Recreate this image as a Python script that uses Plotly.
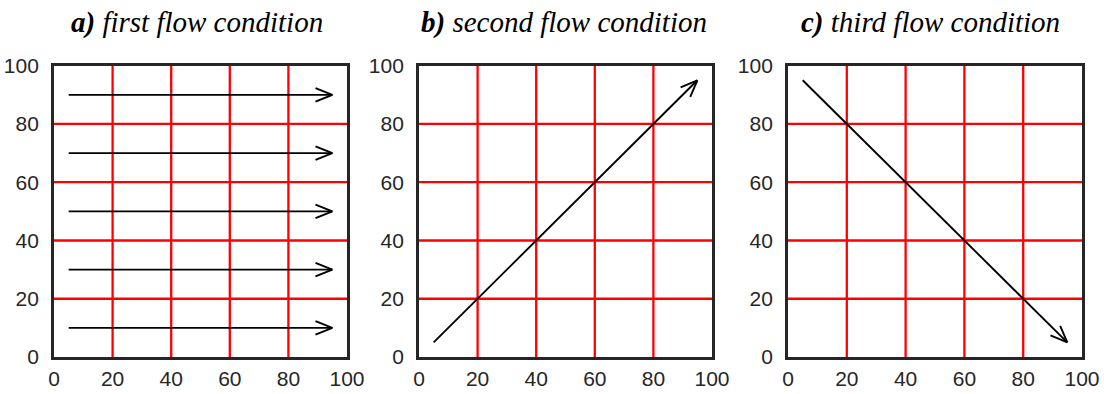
import numpy as np
import plotly.graph_objects as go

# Panel titles and grid ticks
panel_labels = ["a)", "b)", "c)"]
panel_titles = ["first flow condition", "second flow condition", "third flow condition"]
tick_vals = [0, 20, 40, 60, 80, 100]
grid_vals = [20, 40, 60, 80]

# Flow vectors per panel: start (x0, y0) and end (x1, y1)
flow_a_x0 = [5, 5, 5, 5, 5]
flow_a_y0 = [10, 30, 50, 70, 90]
flow_a_x1 = [95, 95, 95, 95, 95]
flow_a_y1 = [10, 30, 50, 70, 90]

flow_b_x0 = [5]
flow_b_y0 = [5]
flow_b_x1 = [95]
flow_b_y1 = [95]

flow_c_x0 = [5]
flow_c_y0 = [95]
flow_c_x1 = [95]
flow_c_y1 = [5]

flows = [
    (flow_a_x0, flow_a_y0, flow_a_x1, flow_a_y1),
    (flow_b_x0, flow_b_y0, flow_b_x1, flow_b_y1),
    (flow_c_x0, flow_c_y0, flow_c_x1, flow_c_y1),
]

x_domains = [[54 / 1104, 347 / 1104], [419 / 1104, 712 / 1104], [788 / 1104, 1082 / 1104]]
y_domain = [1 - 357 / 394, 1 - 65.7 / 394]
title_x_px = [197, 564, 930]

HEAD_LEN = 6.2      # arrowhead length, data units
HEAD_ANGLE = 22.0   # half-angle of the arrowhead, degrees

fig = go.Figure()

for i, (x0s, y0s, x1s, y1s) in enumerate(flows):
    xa = "x" if i == 0 else f"x{i + 1}"
    ya = "y" if i == 0 else f"y{i + 1}"
    xs, ys = [], []
    for x0, y0, x1, y1 in zip(x0s, y0s, x1s, y1s):
        # shaft
        xs += [x0, x1, None]
        ys += [y0, y1, None]
        # open arrowhead: two barbs from the tip
        ang = np.arctan2(y1 - y0, x1 - x0)
        for s in (1, -1):
            a = ang + np.pi - s * np.radians(HEAD_ANGLE)
            xs += [x1 + HEAD_LEN * np.cos(a), x1, None]
            ys += [y1 + HEAD_LEN * np.sin(a), y1, None]
    fig.add_trace(go.Scatter(
        x=xs, y=ys, mode="lines", xaxis=xa, yaxis=ya,
        line=dict(color="black", width=1.9), showlegend=False, hoverinfo="skip",
    ))

axis_common = dict(
    range=[0, 100], tickvals=tick_vals, showgrid=False, zeroline=False,
    showline=True, linecolor="#262626", linewidth=2.8, mirror=True,
    ticks="", tickfont=dict(family="Liberation Sans, Arial", size=21, color="#262626"),
    fixedrange=True, automargin=False,
)

layout = dict(
    width=1104, height=394, margin=dict(l=0, r=0, t=0, b=0, autoexpand=False),
    paper_bgcolor="white", plot_bgcolor="white", showlegend=False,
)

shapes = []
annotations = []
for i in range(3):
    xkey = "xaxis" if i == 0 else f"xaxis{i + 1}"
    ykey = "yaxis" if i == 0 else f"yaxis{i + 1}"
    xref = "x" if i == 0 else f"x{i + 1}"
    yref = "y" if i == 0 else f"y{i + 1}"
    layout[xkey] = dict(axis_common, domain=x_domains[i], anchor=yref, ticklabelstandoff=1)
    layout[ykey] = dict(axis_common, domain=y_domain, anchor=xref, ticklabelstandoff=8)
    # red grid lines drawn as shapes, kept under the traces
    for g in grid_vals:
        shapes.append(dict(type="line", xref=xref, yref=yref, x0=g, x1=g, y0=0, y1=100,
                           line=dict(color="#ff0000", width=2.3), layer="below"))
        shapes.append(dict(type="line", xref=xref, yref=yref, x0=0, x1=100, y0=g, y1=g,
                           line=dict(color="#ff0000", width=2.3), layer="below"))
    annotations.append(dict(
        text=f"<b><i>{panel_labels[i]}</i></b> <i>{panel_titles[i]}</i>",
        xref="paper", yref="paper",
        x=title_x_px[i] / 1104, y=1 - 22 / 394,
        xanchor="center", yanchor="middle", showarrow=False,
        font=dict(family="Liberation Serif, Times New Roman", size=29, color="black"),
    ))

layout["shapes"] = shapes
layout["annotations"] = annotations
fig.update_layout(**layout)

fig.write_html("out.html")
